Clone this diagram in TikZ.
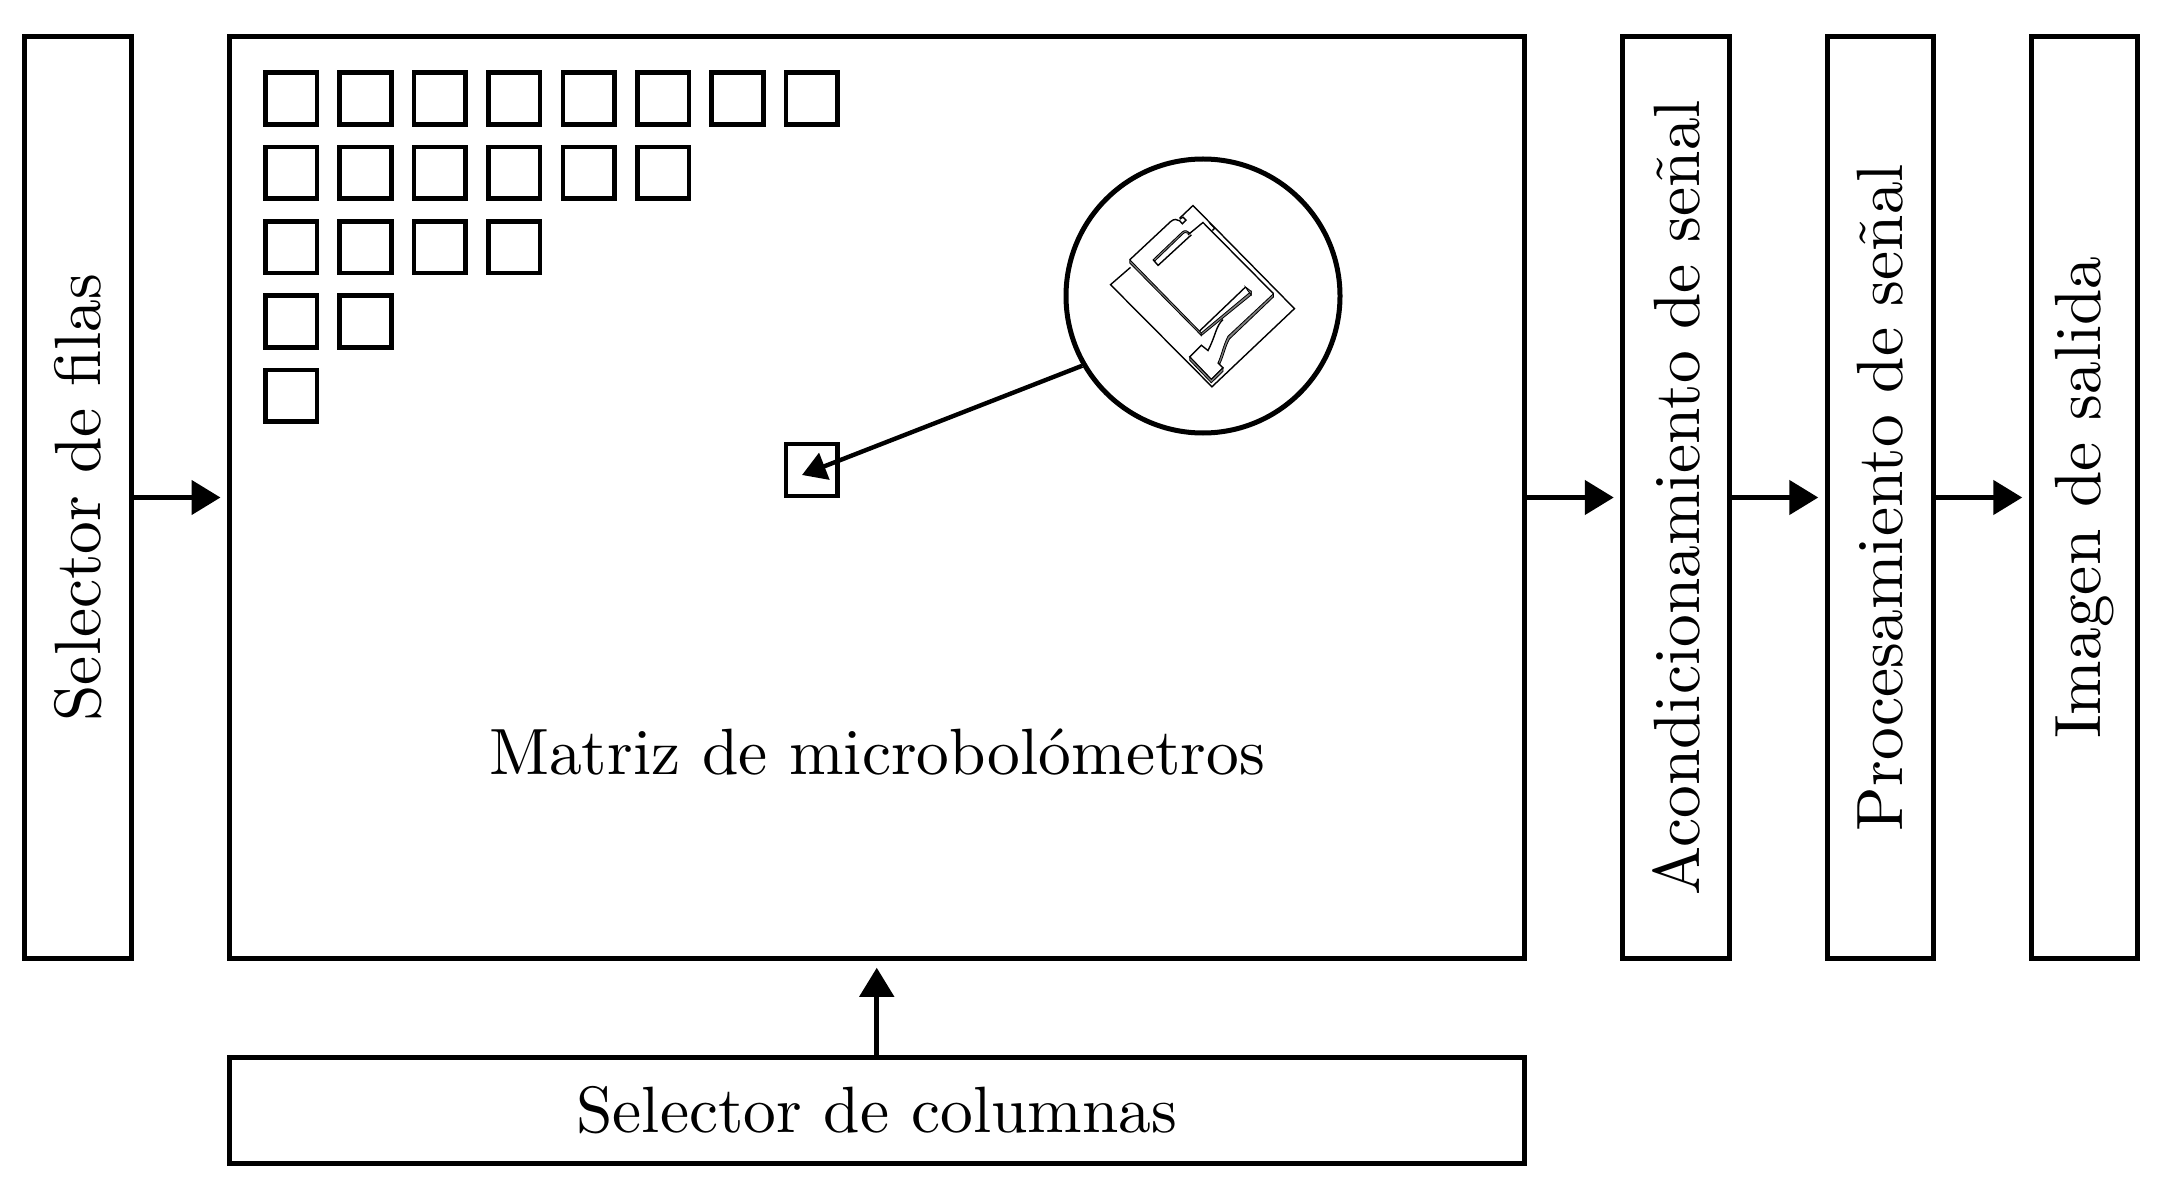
\documentclass[tikz,border=0pt]{standalone}
\usepackage{fontspec}
\setmainfont{lmroman10-regular.otf}
\usepackage{tikz}
\usetikzlibrary{arrows.meta}

\begin{document}
\begin{tikzpicture}[>={Triangle[length=0.29cm,width=0.34cm]}, line width=0.05cm,
          font=\fontsize{18.63}{24}\selectfont,
          block/.style={draw, rectangle, inner sep=0pt, minimum width=12.945cm, minimum height=1.065cm},
          sidebox/.style={draw, rectangle, inner sep=0pt, rotate=90, minimum width=9.225cm, minimum height=1.065cm},
          cellbox/.style={draw, rectangle, inner sep=0pt, line width=0.046cm, minimum size=0.517cm},
          link/.style={->, line width=0.048cm, shorten >=0.065cm},
          thin part/.style={line width=0.014cm, line join=miter},
          side part/.style={line width=0.008cm, fill=black!50}
        ]
        \useasboundingbox (0,0) rectangle (21.62,12);
        \node[sidebox] (filas) at (0.78,7.025) {Selector de filas};
        \node[block, minimum height=9.225cm] (matriz) at (8.7675,7.025) {};
        \node (titulo) at (8.77,4.48) {Matriz de microbol\'ometros};
        \node[block] (columnas) at (8.7675,0.895) {Selector de columnas};
        \node[sidebox] (acond) at (16.76,7.025) {Acondicionamiento de se\~nal};
        \node[sidebox] (proc) at (18.805,7.025) {Procesamiento de se\~nal};
        \node[sidebox] (salida) at (20.845,7.025) {Imagen de salida};

        \foreach \fila/\ultima in {0/7,1/5,2/3,3/1,4/0}
          \foreach \col in {0,...,\ultima}
            \node[cellbox] (cell\fila\col) at ({2.912+0.7437*\col},{11.015-0.743*\fila}) {};
        \node[cellbox] (celda) at (8.117,7.3) {};

        \node[draw, circle, inner sep=0pt, minimum size=2.74cm] (lente) at (12.03,9.04) {};
        \coordinate (punta) at (8.02,7.25);

        % microbolometro dibujado dentro de la lente
        \begin{scope}[shift={(10.4,10.6)}, x=0.003333cm, y=-0.003333cm]
          \draw[thin part] (272,383) -- (212,435) -- (517,742) -- (765,507) -- (460,197) -- (420,235);
          \draw[thin part] (270,360) -- (392,246) .. controls (403,236) and (412,238) .. (420,243)
            -- (428,252) -- (439,241) -- (430,232) -- (420,238);
          \draw[thin part] (445,285) -- (490,248) -- (702,462);
          \draw[thin part] (510,250) -- (525,265) -- (518,272);
          \draw[side part] (270,360) -- (270,370) -- (485,588) -- (485,580) -- cycle;
          \draw[side part] (485,580) -- (485,588) -- (635,466) -- (635,455) -- cycle;
          \draw[side part] (618,442) -- (635,455) -- (635,466) -- (624,452) -- cycle;
          \draw[thin part] (618,442) -- (480,574);
          \draw[side part] (340,360) -- (428,276) .. controls (436,270) and (442,272) .. (450,280)
            -- (443,280) .. controls (437,276) and (434,278) .. (430,282) -- (345,364) -- cycle;
          \draw[thin part] (340,360) -- (355,377) -- (455,285);
          \draw[thin part] (550,540) .. controls (528,560) and (528,590) .. (505,633)
            -- (485,617) -- (450,652) -- (515,720) -- (550,685) -- (535,670);
          \draw[side part] (535,670) .. controls (545,650) and (550,620) .. (565,590)
            -- (702,462) -- (702,472) -- (570,598) .. controls (557,620) and (552,650) .. (541,672) -- cycle;
          \draw[side part] (450,652) -- (450,662) -- (515,730) -- (550,696) -- (550,685) -- (515,720) -- cycle;
        \end{scope}

        \draw[link] (filas.south |- matriz.west) -- (matriz.west);
        \draw[link] (matriz.east) -- (acond.north);
        \draw[link] (acond.south) -- (proc.north);
        \draw[link] (proc.south) -- (salida.north);
        \draw[link] (columnas.north) -- (matriz.south);
        \draw[->, line width=0.044cm, >={Triangle[length=0.24cm,width=0.28cm]}] (lente.210) -- (punta);
      \end{tikzpicture}
\end{document}
